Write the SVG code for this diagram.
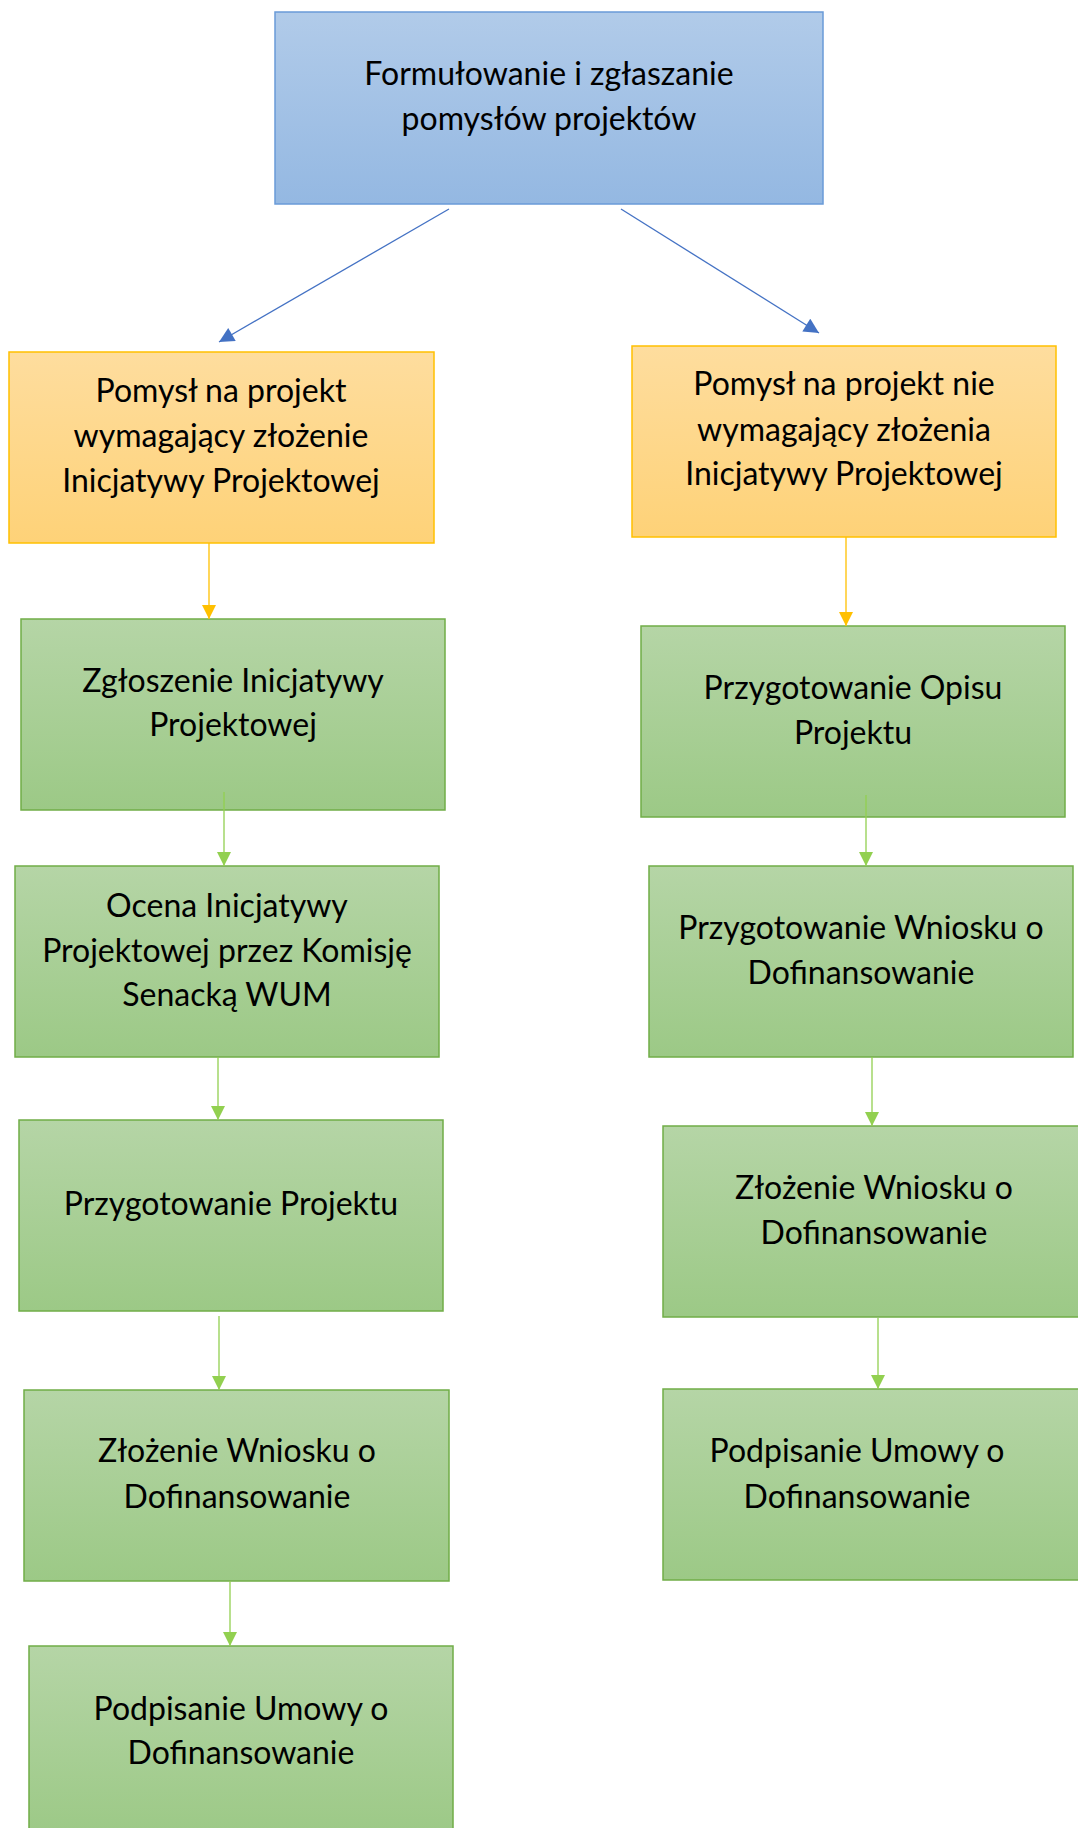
<svg xmlns="http://www.w3.org/2000/svg" width="1078" height="1828" viewBox="0 0 1078 1828">
<style>
text{font-family:Lato,"Open Sans","Liberation Sans",sans-serif;font-size:32px;fill:#000;text-anchor:middle}
.blue{fill:url(#gB);stroke:#6a9bd8;stroke-width:1.5}
.yel{fill:url(#gY);stroke:#ffc000;stroke-width:1.5}
.grn{fill:url(#gG);stroke:#70ad47;stroke-width:1.5}
.cb{stroke:#4472c4;stroke-width:1.3;fill:none}
.cy{stroke:#ffc000;stroke-width:1.3;fill:none}
.cg{stroke:#92d050;stroke-width:1.3;fill:none}
</style>
<defs>
<linearGradient id="gB" x1="0" y1="0" x2="0" y2="1"><stop offset="0" stop-color="#b1cbe9"/><stop offset="1" stop-color="#94b8e2"/></linearGradient>
<linearGradient id="gY" x1="0" y1="0" x2="0" y2="1"><stop offset="0" stop-color="#fedd9e"/><stop offset="1" stop-color="#fed278"/></linearGradient>
<linearGradient id="gG" x1="0" y1="0" x2="0" y2="1"><stop offset="0" stop-color="#b5d5a6"/><stop offset="1" stop-color="#9cc986"/></linearGradient>
<marker id="aB" viewBox="0 0 10 10" refX="10" refY="5" markerWidth="16" markerHeight="15" markerUnits="userSpaceOnUse" orient="auto"><path d="M0,0 L10,5 L0,10 Z" fill="#4472c4"/></marker>
<marker id="aY" viewBox="0 0 10 10" refX="10" refY="5" markerWidth="14" markerHeight="15" markerUnits="userSpaceOnUse" orient="auto"><path d="M0,0 L10,5 L0,10 Z" fill="#ffc000"/></marker>
<marker id="aG" viewBox="0 0 10 10" refX="10" refY="5" markerWidth="14" markerHeight="15" markerUnits="userSpaceOnUse" orient="auto"><path d="M0,0 L10,5 L0,10 Z" fill="#92d050"/></marker>
</defs>
<rect width="1078" height="1828" fill="#fff"/>

<g id="n-top"><rect class="blue" x="275" y="12" width="548" height="192"/><text x="549" y="85">Formułowanie i zgłaszanie</text><text x="549" y="130">pomysłów projektów</text></g>

<g id="n-yl"><rect class="yel" x="9" y="352" width="425" height="191"/><text x="221" y="402">Pomysł na projekt</text><text x="221" y="447">wymagający złożenie</text><text x="221" y="492">Inicjatywy Projektowej</text></g>
<g id="n-yr"><rect class="yel" x="632" y="346" width="424" height="191"/><text x="844" y="395">Pomysł na projekt nie</text><text x="844" y="441">wymagający złożenia</text><text x="844" y="485">Inicjatywy Projektowej</text></g>

<g id="n-l1"><rect class="grn" x="21" y="619" width="424" height="191"/><text x="233" y="692">Zgłoszenie Inicjatywy</text><text x="233" y="736">Projektowej</text></g>
<g id="n-l2"><rect class="grn" x="15" y="866" width="424" height="191"/><text x="227" y="917">Ocena Inicjatywy</text><text x="227" y="962">Projektowej przez Komisję</text><text x="227" y="1006">Senacką WUM</text></g>
<g id="n-l3"><rect class="grn" x="19" y="1120" width="424" height="191"/><text x="231" y="1215">Przygotowanie Projektu</text></g>
<g id="n-l4"><rect class="grn" x="24" y="1390" width="425" height="191"/><text x="237" y="1462">Złożenie Wniosku o</text><text x="237" y="1508">Dofinansowanie</text></g>
<g id="n-l5"><rect class="grn" x="29" y="1646" width="424" height="191"/><text x="241" y="1720">Podpisanie Umowy o</text><text x="241" y="1764">Dofinansowanie</text></g>

<g id="n-r1"><rect class="grn" x="641" y="626" width="424" height="191"/><text x="853" y="699">Przygotowanie Opisu</text><text x="853" y="744">Projektu</text></g>
<g id="n-r2"><rect class="grn" x="649" y="866" width="424" height="191"/><text x="861" y="939">Przygotowanie Wniosku o</text><text x="861" y="984">Dofinansowanie</text></g>
<g id="n-r3"><rect class="grn" x="663" y="1126" width="430" height="191"/><text x="874" y="1199">Złożenie Wniosku o</text><text x="874" y="1244">Dofinansowanie</text></g>
<g id="n-r4"><rect class="grn" x="663" y="1389" width="430" height="191"/><text x="857" y="1462">Podpisanie Umowy o</text><text x="857" y="1508">Dofinansowanie</text></g>

<g id="connectors">
<line class="cb" x1="449" y1="209" x2="219" y2="342" marker-end="url(#aB)"/>
<line class="cb" x1="621" y1="209" x2="819" y2="333" marker-end="url(#aB)"/>
<line class="cy" x1="209" y1="543" x2="209" y2="619" marker-end="url(#aY)"/>
<line class="cy" x1="846" y1="537" x2="846" y2="626" marker-end="url(#aY)"/>
<line class="cg" x1="224" y1="792" x2="224" y2="866" marker-end="url(#aG)"/>
<line class="cg" x1="218" y1="1057" x2="218" y2="1120" marker-end="url(#aG)"/>
<line class="cg" x1="219" y1="1316" x2="219" y2="1390" marker-end="url(#aG)"/>
<line class="cg" x1="230" y1="1581" x2="230" y2="1646" marker-end="url(#aG)"/>
<line class="cg" x1="866" y1="795" x2="866" y2="866" marker-end="url(#aG)"/>
<line class="cg" x1="872" y1="1057" x2="872" y2="1126" marker-end="url(#aG)"/>
<line class="cg" x1="878" y1="1318" x2="878" y2="1389" marker-end="url(#aG)"/>
</g>
</svg>
